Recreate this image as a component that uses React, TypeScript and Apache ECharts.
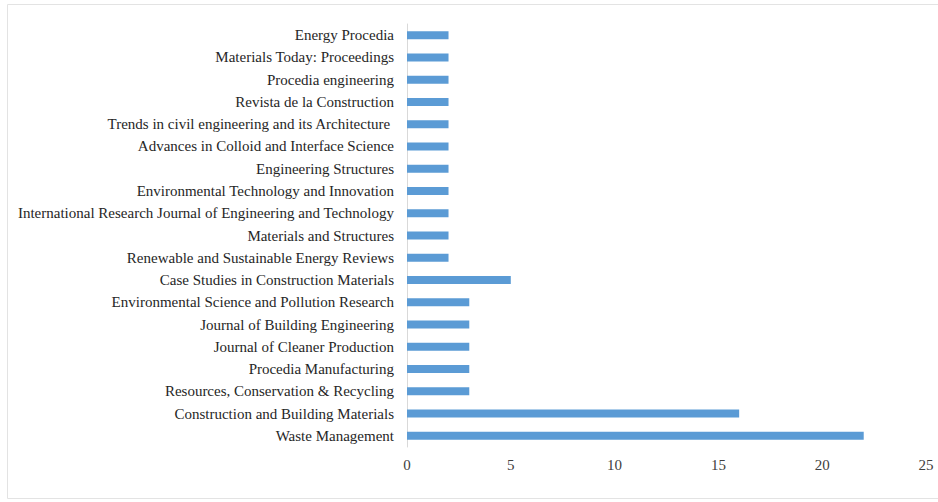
import React, { useEffect, useRef } from "react";
import * as echarts from "echarts";

const categories = [
  "Waste Management",
  "Construction and Building Materials",
  "Resources, Conservation & Recycling",
  "Procedia Manufacturing",
  "Journal of Cleaner Production",
  "Journal of Building Engineering",
  "Environmental Science and Pollution Research",
  "Case Studies in Construction Materials",
  "Renewable and Sustainable Energy Reviews",
  "Materials and Structures",
  "International Research Journal of Engineering and Technology",
  "Environmental Technology and Innovation",
  "Engineering Structures",
  "Advances in Colloid and Interface Science",
  "Trends in civil engineering and its Architecture ",
  "Revista de la Construction",
  "Procedia engineering",
  "Materials Today: Proceedings",
  "Energy Procedia",
];

const values = [22, 16, 3, 3, 3, 3, 3, 5, 2, 2, 2, 2, 2, 2, 2, 2, 2, 2, 2];

const xTicks = [0, 5, 10, 15, 20, 25];

export default function App() {
  const ref = useRef<HTMLDivElement>(null);
  useEffect(() => {
    document.body.style.margin = "0";
    const chart = echarts.init(ref.current!, undefined, { renderer: "svg" });
    const font = "'Liberation Serif', 'Times New Roman', serif";
    chart.setOption({
      animation: false,
      backgroundColor: "#ffffff",
      graphic: [
        {
          type: "rect",
          shape: { x: 7.5, y: 4.5, width: 940, height: 494 },
          style: { fill: "none", stroke: "#e3e3e3", lineWidth: 1 },
          silent: true,
        },
      ],
      grid: { left: 407, right: 12, top: 24, bottom: 55, containLabel: false },
      xAxis: {
        type: "value",
        min: xTicks[0],
        max: xTicks[xTicks.length - 1],
        interval: 5,
        axisLine: { show: false },
        axisTick: { show: false },
        splitLine: { show: false },
        axisLabel: { color: "#404040", fontFamily: font, fontSize: 15, margin: 10 },
      },
      yAxis: {
        type: "category",
        data: categories,
        axisLine: { show: true, lineStyle: { color: "#d9d9d9", width: 1 } },
        axisTick: { show: false },
        axisLabel: { color: "#262626", fontFamily: font, fontSize: 15, margin: 13 },
      },
      series: [
        {
          type: "bar",
          data: values,
          barWidth: 8,
          itemStyle: { color: "#5b9bd5" },
        },
      ],
    });
    return () => chart.dispose();
  }, []);
  return <div ref={ref} style={{ width: 938, height: 502 }} />;
}
